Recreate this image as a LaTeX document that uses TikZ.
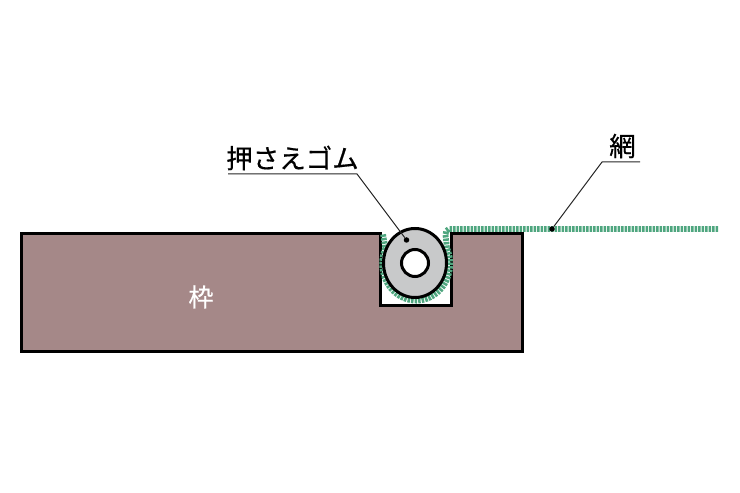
\documentclass[tikz,border=0pt]{standalone}
\usepackage{fontspec}
\setmainfont{Noto Sans CJK JP}[FakeBold=0.5]
\usetikzlibrary{positioning,calc}
\definecolor{framebrown}{RGB}{165,136,136}
\definecolor{meshgreen}{RGB}{79,166,127}
\definecolor{rubbergray}{RGB}{200,201,202}

\begin{document}
\begin{tikzpicture}[x=1pt,y=1pt,
  leaderdot/.style={circle,fill=black,inner sep=0pt,minimum size=5.5pt},
  leaderline/.style={line width=1pt,black!85}]
\useasboundingbox (0,0) rectangle (740,493);

% Frame
\draw[line width=3pt,fill=framebrown,miter limit=10]
  (21,259) -- (380,259) -- (380,187.5) -- (451,187.5) -- (451,259) -- (522,259) -- (522,141.5) -- (21,141.5) -- cycle;
\node[text=white,font=\fontsize{25}{25}\selectfont] (framelabel) at (201,196) {枠};

% Mesh
\draw[meshgreen,line width=5.8pt,dash pattern=on 2.5pt off 1pt]
  (718,264) -- (449,264) to[out=180,in=90] (445.5,258) -- (447,245)
  arc[start angle=25,end angle=-205,x radius=34,y radius=37] -- (383,259);

% Rubber
\draw[line width=3pt,fill=rubbergray] (415,230) ellipse [x radius=31.5,y radius=34.5];
\draw[line width=3pt,fill=white] (415,230) ellipse [x radius=13.5,y radius=13.5];

% Labels
\node[font=\fontsize{26.5}{26.5}\selectfont,inner sep=0pt] (rubberlabel) at (292.5,335) {押さえゴム};
\node[font=\fontsize{26.5}{26.5}\selectfont,inner sep=0pt] (meshlabel) at (622.5,347) {網};

% Leaders
\node[leaderdot] (rubberdot) at (406.5,253) {};
\node[leaderdot] (meshdot) at (552,264) {};
\coordinate (rubberstart) at (228,319);
\coordinate (rubberbend) at (357,319);
\coordinate (meshend) at (640,331);
\coordinate (meshbend) at (602,331);
\draw[leaderline] (rubberstart) -- (rubberbend) -- (rubberdot);
\draw[leaderline] (meshend) -- (meshbend) -- (meshdot);

\end{tikzpicture}
\end{document}
